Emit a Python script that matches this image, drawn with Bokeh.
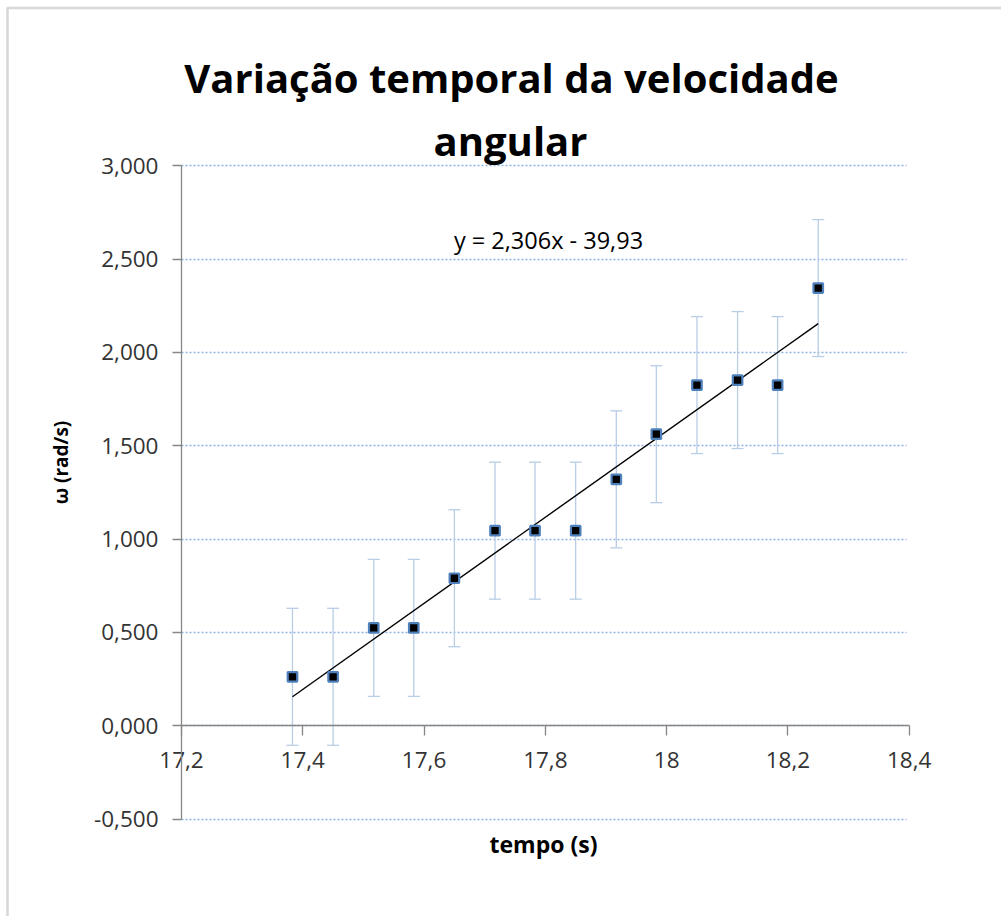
from math import pi
import numpy as np
from bokeh.plotting import figure
from bokeh.models import (ColumnDataSource, Whisker, TeeHead, LinearAxis, Label, Grid,
                          CustomJSTickFormatter, FixedTicker, PolyAnnotation)
from bokeh.embed import file_html
from bokeh.resources import INLINE

# ---------------- data ----------------
tempo = [17.383, 17.450, 17.517, 17.583, 17.650, 17.717, 17.783,
         17.850, 17.917, 17.983, 18.050, 18.117, 18.183, 18.250]
omega = [0.262, 0.262, 0.524, 0.524, 0.790, 1.045, 1.045,
         1.045, 1.320, 1.562, 1.825, 1.852, 1.825, 2.345]
erro = [0.367, 0.367, 0.367, 0.367, 0.367, 0.367, 0.367,
        0.367, 0.367, 0.367, 0.367, 0.367, 0.367, 0.367]
x_ticks = [17.2, 17.4, 17.6, 17.8, 18.0, 18.2, 18.4]
y_ticks = [-0.5, 0.0, 0.5, 1.0, 1.5, 2.0, 2.5, 3.0]
fit_slope = 2.306
fit_intercept = -39.93
title_lines = ["Variação temporal da velocidade", "angular"]
x_label = "tempo (s)"
y_label = "ω (rad/s)"
equation = "y = 2,306x - 39,93"

# ---------------- layout / styles ----------------
W, H = 1001, 916
# pixel positions of the plot-area corners (from the left / from the top)
PX_LEFT, PX_RIGHT = 181.0, 908.7      # x = 17.2 and x = 18.4
PX_TOP, PX_BOTTOM = 165.3, 818.5      # y = 3.0 and y = -0.5
xs_ = (PX_RIGHT - PX_LEFT) / (x_ticks[-1] - x_ticks[0])
ys_ = (PX_BOTTOM - PX_TOP) / (y_ticks[-1] - y_ticks[0])
X0 = x_ticks[0] - PX_LEFT / xs_
X1 = X0 + W / xs_
Y1 = y_ticks[-1] + PX_TOP / ys_
Y0 = Y1 - H / ys_

FONT = "Open Sans"
AXIS_GRAY = "#868686"
TEXT = "#333333"
ERR_COLOR = "#b9cde5"
GRID_COLOR = "#8db3e2"

t = np.array(tempo)
w = np.array(omega)
e = np.array(erro)
src = ColumnDataSource(dict(x=t, y=w, upper=w + e, lower=w - e))

p = figure(width=W, height=H, x_range=(X0, X1), y_range=(Y0, Y1),
           output_backend="svg", toolbar_location=None,
           x_axis_location=None, y_axis_location=None, min_border=0)
p.outline_line_color = None
p.background_fill_color = "white"
p.border_fill_color = "white"
for g in p.grid:
    g.visible = False

# horizontal grid lines, limited to the plot area
ygrid = Grid(dimension=1, ticker=FixedTicker(ticks=y_ticks), bounds=(y_ticks[0], y_ticks[-1]),
             grid_line_color=GRID_COLOR, grid_line_width=1.5, grid_line_dash="2 2")
try:
    ygrid.cross_bounds = (x_ticks[0], x_ticks[-1] - 0.005)
    p.add_layout(ygrid, "center")
except Exception:
    p.segment(x0=[x_ticks[0]] * len(y_ticks), x1=[x_ticks[-1]] * len(y_ticks),
              y0=y_ticks, y1=y_ticks, line_color=GRID_COLOR, line_width=1.5, line_dash="2 2")

# y axis at x = 17.2
yax = LinearAxis(fixed_location=x_ticks[0], bounds=(y_ticks[0], y_ticks[-1]))
yax.ticker = FixedTicker(ticks=y_ticks)
yax.formatter = CustomJSTickFormatter(code="return tick.toFixed(3).replace('.', ',');")
yax.axis_line_color = AXIS_GRAY
yax.axis_line_width = 1.3
yax.major_tick_line_color = AXIS_GRAY
yax.major_tick_line_width = 1.3
yax.major_tick_out = 9
yax.major_tick_in = 0
yax.minor_tick_line_color = None
yax.major_label_standoff = 14
yax.major_label_text_font = FONT
yax.major_label_text_font_size = "22.5px"
yax.major_label_text_color = TEXT
p.add_layout(yax, "left")

# x axis crossing at y = 0
xax = LinearAxis(fixed_location=0, bounds=(x_ticks[0], x_ticks[-1]))
xax.ticker = FixedTicker(ticks=x_ticks)
xax.formatter = CustomJSTickFormatter(
    code="var s = tick.toFixed(1); if (s.endsWith('.0')) { s = s.slice(0, -2); } return s.replace('.', ',');")
xax.axis_line_color = AXIS_GRAY
xax.axis_line_width = 1.3
xax.major_tick_line_color = AXIS_GRAY
xax.major_tick_line_width = 1.3
xax.major_tick_out = 10
xax.major_tick_in = 0
xax.minor_tick_line_color = None
xax.major_label_standoff = 16
xax.major_label_text_font = FONT
xax.major_label_text_font_size = "22.5px"
xax.major_label_text_color = TEXT
p.add_layout(xax, "below")

# error bars
whisk = Whisker(source=src, base="x", upper="upper", lower="lower", dimension="height",
                line_color=ERR_COLOR, line_width=1.3,
                upper_head=TeeHead(size=12, line_color=ERR_COLOR, line_width=1.3),
                lower_head=TeeHead(size=12, line_color=ERR_COLOR, line_width=1.3))
p.add_layout(whisk)

# trend line
xfit = np.array([t.min(), t.max()])
yfit = fit_slope * xfit + fit_intercept
p.line(xfit, yfit, line_color="black", line_width=1.4)

# points
p.scatter("x", "y", source=src, marker="square", size=9.5,
          fill_color="black", line_color="#4f81bd", line_width=2.2)

# texts (screen units: x from the left, y from the bottom)
p.add_layout(Label(x=548, y=H - 239, x_units="screen", y_units="screen",
                   text=equation, text_align="center", text_baseline="middle",
                   text_font=FONT, text_font_size="23.5px", text_color="black"))
p.add_layout(Label(x=511, y=H - 77, x_units="screen", y_units="screen",
                   text=title_lines[0], text_align="center", text_baseline="alphabetic",
                   text_font=FONT, text_font_style="bold",
                   text_font_size="40px", text_color="black"))
p.add_layout(Label(x=510, y=H - 140, x_units="screen", y_units="screen",
                   text=title_lines[1], text_align="center", text_baseline="alphabetic",
                   text_font=FONT, text_font_style="bold",
                   text_font_size="40px", text_color="black"))
p.add_layout(Label(x=60, y=H - 462, x_units="screen", y_units="screen", angle=pi / 2,
                   text=y_label, text_align="center", text_baseline="middle",
                   text_font=FONT, text_font_style="bold",
                   text_font_size="19px", text_color="black"))
p.add_layout(Label(x=543, y=H - 843, x_units="screen", y_units="screen",
                   text=x_label, text_align="center", text_baseline="middle",
                   text_font=FONT, text_font_style="bold",
                   text_font_size="23px", text_color="black"))

# chart-area border (left and top edges)
p.add_layout(PolyAnnotation(xs=[7, 7, W + 50, W + 50], ys=[-50, H - 7.5, H - 7.5, -50],
                            xs_units="screen", ys_units="screen",
                            fill_color=None, line_color="#7a7a7a", line_width=2.5))

open("out.html", "w").write(file_html(p, INLINE))
